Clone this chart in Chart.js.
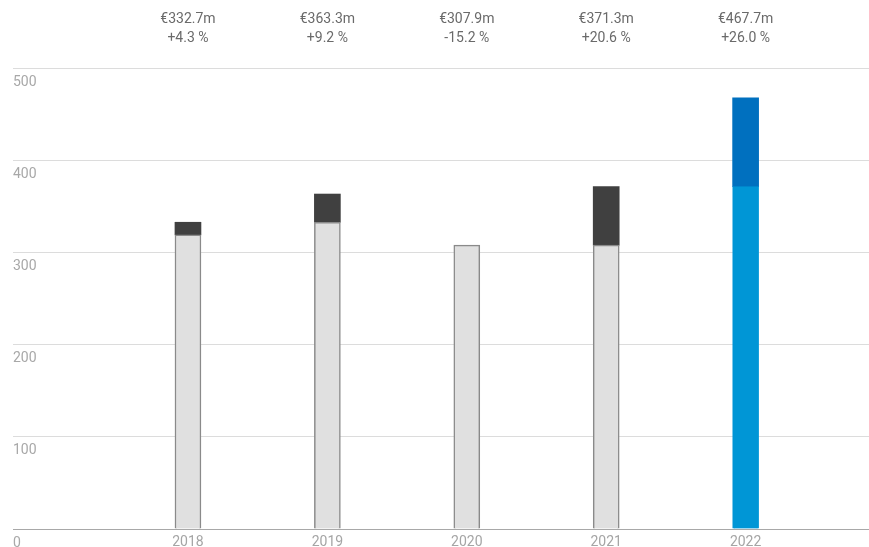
<!DOCTYPE html>
<html>
<head>
<meta charset="utf-8">
<script src="https://cdn.jsdelivr.net/npm/chart.js@4"></script>
<style>
  body { margin: 0; background: #fff; }
  canvas { display: block; }
</style>
</head>
<body>
<canvas id="chart" width="869" height="547"></canvas>
<script>
const years = ["2018", "2019", "2020", "2021", "2022"];
const baseValues = [319.0, 332.7, 307.9, 307.9, 371.3];
const totals = [332.7, 363.3, 307.9, 371.3, 467.7];
const totalLabels = ["€332.7m", "€363.3m", "€307.9m", "€371.3m", "€467.7m"];
const changeLabels = ["+4.3 %", "+9.2 %", "-15.2 %", "+20.6 %", "+26.0 %"];
const yTicks = [0, 100, 200, 300, 400, 500];

const FONT = "Roboto, 'Liberation Sans', sans-serif";
const lastIdx = years.length - 1;

// year labels under the bars and totals/changes above the plot
const textLabels = {
  id: "textLabels",
  afterDraw(chart) {
    const { ctx, scales, chartArea } = chart;
    ctx.save();
    ctx.font = "14px " + FONT;
    ctx.textAlign = "center";
    ctx.textBaseline = "middle";
    years.forEach((y, i) => {
      const x = scales.x.getPixelForValue(i);
      ctx.fillStyle = "#6a6a6a";
      ctx.fillText(totalLabels[i], x, 19);
      ctx.fillText(changeLabels[i], x, 38);
      ctx.fillStyle = "#a5a5a5";
      ctx.fillText(y, x, chartArea.bottom + 13);
    });
    ctx.restore();
  }
};

new Chart(document.getElementById("chart"), {
  type: "bar",
  data: {
    datasets: [
      {
        // previous year level
        data: baseValues.map((v, i) => ({ x: i, y: v })),
        backgroundColor: baseValues.map((v, i) => (i === lastIdx ? "#0096d6" : "#e0e0e0")),
        borderColor: baseValues.map((v, i) => (i === lastIdx ? "#0096d6" : "#8a8a8a")),
        borderWidth: 1.5,
        barThickness: 26,
        grouped: false
      },
      {
        // growth on top
        data: totals.map((v, i) => ({ x: i, y: v > baseValues[i] ? [baseValues[i], v] : null })),
        backgroundColor: totals.map((v, i) => (i === lastIdx ? "#0070bf" : "#404040")),
        borderWidth: 0,
        barThickness: 26,
        grouped: false
      }
    ]
  },
  options: {
    responsive: false,
    animation: false,
    layout: { padding: { left: 13, top: 68, right: 0, bottom: 18 } },
    plugins: { legend: { display: false }, tooltip: { enabled: false } },
    scales: {
      x: {
        type: "linear",
        display: false,
        offset: false,
        min: -1.255,
        max: 4.885
      },
      y: {
        min: 0,
        max: 500,
        afterBuildTicks: (axis) => { axis.ticks = yTicks.map((v) => ({ value: v })); },
        grid: {
          drawTicks: false,
          color: (c) => (c.tick && c.tick.value === 0 ? "#a8a8a8" : "#dcdcdc"),
          lineWidth: 1
        },
        border: { display: false },
        ticks: {
          mirror: true,
          padding: 0,
          labelOffset: 14,
          color: "#a8a8a8",
          font: { family: FONT, size: 14 }
        }
      }
    }
  },
  plugins: [textLabels]
});
</script>
</body>
</html>
